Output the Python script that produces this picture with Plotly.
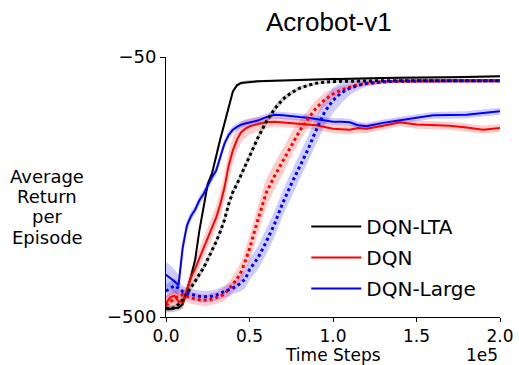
import plotly.graph_objects as go

# time steps (thousands)
steps_k = [0, 2.5, 5, 7.5, 10, 12.5, 15, 17.5, 20, 22.5, 25, 27.5, 30, 32.5, 35, 37.5, 40, 42.5, 45, 47.5, 50,
           55, 60, 65, 70, 75, 80, 85, 90, 95, 100, 105, 110, 115, 120,
           130, 140, 150, 160, 170, 180, 190, 200]

lta_solid = [-484, -486, -485, -484, -478, -455, -430, -400, -350, -310, -270, -252, -220, -192, -165, -137, -110, -99, -95, -94, -93,
             -92, -91.5, -91, -90, -89.5, -89, -89, -88.5, -88, -88, -88, -87.5, -87.5, -87,
             -86.5, -86, -86, -85.5, -85, -84.5, -84, -83.5]
lta_dotted = [-485, -486, -484, -478, -470, -460, -450, -438, -426, -415, -400, -385, -370, -352, -332, -305, -284, -270, -255, -238, -222,
              -190, -162, -140, -123, -112, -104, -99, -95.5, -93.5, -92.5, -92, -92, -91.5, -91.5,
              -91, -91, -91, -91, -91, -91, -91, -91]
dqn_solid = [-476, -466, -463, -473, -475, -452, -432, -416, -398, -381, -362, -346, -328, -305, -276, -238, -212, -193, -180, -174, -170,
             -166, -163, -162, -163, -164, -165, -166, -168, -171, -174, -175, -176, -173, -174,
             -169, -163, -167, -168, -169, -172, -176, -173]
dqn_dotted = [-480, -474, -468, -464, -461, -464, -467, -469, -470, -471, -471, -469, -467, -464, -460, -452, -444, -434, -422, -403, -382,
              -332, -285, -256, -230, -202, -178, -157, -138, -124, -114, -107, -102, -98, -96,
              -93, -92, -91.5, -91.5, -91, -91, -91, -91]
large_solid = [-427, -432, -438, -445, -380, -342, -325, -314, -298, -287, -272, -258, -247, -222, -200, -185, -176, -171, -167, -165, -163,
               -160, -154, -150, -151, -153, -154, -155, -157, -160, -162, -162, -163, -168, -170,
               -164, -159, -155, -151, -151, -150, -147, -144]
large_dotted = [-455, -450, -446, -450, -456, -459, -461, -463, -464, -465, -465, -464, -462, -459, -457, -454, -450, -446, -441, -434, -418,
                -398, -370, -339, -302, -270, -240, -210, -176, -145, -125, -112, -104, -99, -96,
                -93, -91.5, -91, -91, -91, -91, -91, -91]

# half-widths of the shaded bands
lta_solid_err = [6]*16 + [4, 3, 3, 3, 3] + [2]*14 + [2]*8
lta_dotted_err = [4]*4 + [6]*17 + [6, 6, 6, 5, 4, 3, 3, 2, 2, 2, 2, 2, 2, 2] + [2]*8
dqn_solid_err = [12, 12, 12, 12, 12, 14, 15, 16, 16, 17, 18, 19, 20, 22, 24, 24, 22, 20, 18, 16, 14,
                 12, 10, 9, 8, 8, 8, 8, 8, 8, 8, 8, 8, 8, 8,
                 7, 7, 7, 7, 7, 7, 7, 7]
dqn_dotted_err = [14, 14, 12, 12, 10, 10, 10, 10, 10, 10, 10, 10, 10, 11, 12, 13, 14, 16, 18, 20, 22,
                  24, 24, 22, 22, 20, 18, 16, 14, 12, 9, 7, 5, 4, 3,
                  3, 3, 3, 3, 3, 3, 3, 3]
large_solid_err = [22, 22, 20, 18, 14, 10, 8, 8, 8, 8, 8, 8, 8, 8, 7, 7, 6, 6, 6, 6, 6,
                   6, 6, 6, 6, 6, 6, 6, 6, 6, 6, 6, 6, 6, 6,
                   6, 6, 6, 6, 6, 6, 6, 6]
large_dotted_err = [12, 12, 12, 12, 10, 10, 10, 10, 10, 10, 10, 10, 10, 10, 10, 10, 10, 12, 14, 16, 18,
                    20, 22, 22, 22, 22, 22, 22, 24, 24, 22, 18, 12, 8, 5,
                    3, 3, 3, 3, 3, 3, 3, 3]

x_ticks = [0, 50000, 100000, 150000, 200000]
x_tick_labels = ["0.0", "0.5", "1.0", "1.5", "2.0"]
y_ticks = [-50, -500]
y_tick_labels = ["\u221250", "\u2212500"]

steps = [s * 1000 for s in steps_k]

fig = go.Figure()

series = [
    ("DQN-LTA", lta_solid, lta_solid_err, "0,0,0", "solid", True),
    ("DQN", dqn_solid, dqn_solid_err, "255,0,0", "solid", True),
    ("DQN-Large", large_solid, large_solid_err, "0,0,255", "solid", True),
    ("DQN-LTA dotted", lta_dotted, lta_dotted_err, "0,0,0", "dot", False),
    ("DQN dotted", dqn_dotted, dqn_dotted_err, "255,0,0", "dot", False),
    ("DQN-Large dotted", large_dotted, large_dotted_err, "0,0,255", "dot", False),
]

for name, vals, err, rgb, dash, _ in series:
    upper = [v + e for v, e in zip(vals, err)]
    lower = [v - e for v, e in zip(vals, err)]
    fig.add_trace(go.Scatter(
        x=steps + steps[::-1], y=upper + lower[::-1],
        fill="toself", fillcolor=f"rgba({rgb},0.2)",
        line=dict(width=0), mode="lines", showlegend=False, hoverinfo="skip"))

for name, vals, err, rgb, dash, show in series:
    fig.add_trace(go.Scatter(
        x=steps, y=vals, mode="lines", name=name,
        line=dict(color=f"rgb({rgb})", width=3 if dash == "dot" else 2, dash=dash),
        showlegend=show, legendgroup=name))

fig.update_layout(
    width=519, height=365,
    margin=dict(l=166, r=19, t=57, b=48, autoexpand=False),
    plot_bgcolor="white", paper_bgcolor="white",
    font=dict(family="DejaVu Sans", size=18, color="black"),
    showlegend=True,
    legend=dict(x=0.42, y=0.423, xanchor="left", yanchor="top",
                font=dict(size=20), bgcolor="rgba(0,0,0,0)",
                tracegroupgap=2, itemwidth=50),
    xaxis=dict(range=[0, 200000], tickvals=x_ticks, ticktext=x_tick_labels,
               showline=True, linecolor="black", linewidth=1, ticks="outside",
               ticklen=4, tickcolor="black", showgrid=False, zeroline=False,
               automargin=False, tickfont=dict(size=17), ticklabelstandoff=0),
    yaxis=dict(range=[-500, -50], tickvals=y_ticks, ticktext=y_tick_labels,
               showline=True, linecolor="black", linewidth=1, ticks="outside",
               ticklen=5, tickcolor="black", showgrid=False, zeroline=False,
               automargin=False, tickfont=dict(size=18)),
)

fig.add_annotation(text="Acrobot-v1", xref="paper", yref="paper", x=0.487, y=1.0,
                   yshift=35, showarrow=False, xanchor="center", yanchor="middle",
                   font=dict(family="Liberation Sans", size=26))
fig.add_annotation(text="Time Steps", xref="paper", yref="paper", x=0.501, y=0,
                   yshift=-38, showarrow=False, xanchor="center", yanchor="middle",
                   font=dict(size=17))
fig.add_annotation(text="1e5", xref="paper", yref="paper", x=1.0, y=0,
                   yshift=-38, showarrow=False, xanchor="right", yanchor="middle",
                   font=dict(size=17))

for i, word in enumerate(["Average", "Return", "per", "Episode"]):
    fig.add_annotation(text=word, xref="paper", yref="paper", x=-0.356, y=(317 - 176 - 20.4 * i) / 260,
                       showarrow=False, xanchor="center", yanchor="middle", font=dict(size=18))

fig.write_html("out.html")
